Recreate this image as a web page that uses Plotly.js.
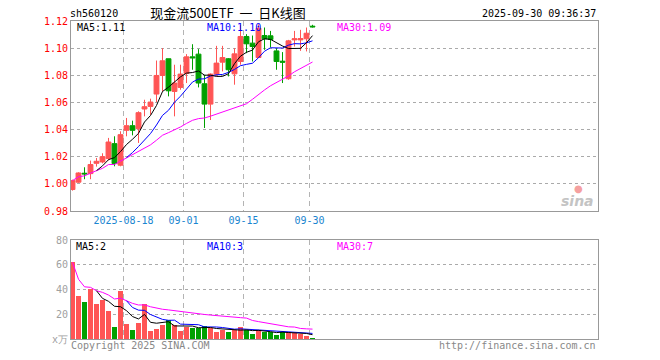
<!DOCTYPE html>
<html><head><meta charset="utf-8">
<script src="https://cdn.plot.ly/plotly-3.0.1.min.js"></script>
<style>html,body{margin:0;padding:0;background:#fff}#chart{width:660px;height:360px}</style>
</head><body><div id="chart"></div>
<script>
// ---- data (sh560120 daily K) ----
const dates = ["2025-08-05","2025-08-06","2025-08-07","2025-08-08","2025-08-11","2025-08-12","2025-08-13","2025-08-14","2025-08-15",
  "2025-08-18","2025-08-19","2025-08-20","2025-08-21","2025-08-22","2025-08-25","2025-08-26","2025-08-27","2025-08-28","2025-08-29",
  "2025-09-01","2025-09-02","2025-09-03","2025-09-04","2025-09-05","2025-09-08","2025-09-09","2025-09-10","2025-09-11","2025-09-12",
  "2025-09-15","2025-09-16","2025-09-17","2025-09-18","2025-09-19","2025-09-22","2025-09-23","2025-09-24","2025-09-25","2025-09-26",
  "2025-09-29","2025-09-30"];
const openP  = [0.9959,1.0013,1.0079,1.0076,1.0152,1.0162,1.0187,1.0297,1.0138,1.0395,1.0429,1.0407,1.0552,1.0571,1.0662,1.0799,1.0922,1.0681,1.0711,1.0814,
  1.0936,1.0956,1.0738,1.0588,1.0809,1.0897,1.0922,1.0811,1.0902,1.1086,1.1037,1.0931,1.1093,1.1091,1.0980,1.0904,1.0775,1.1061,1.1061,1.1069,1.1162];
const highP  = [1.0032,1.0086,1.0123,1.0172,1.0191,1.0226,1.0339,1.0351,1.0388,1.0486,1.0466,1.0535,1.0620,1.0628,1.0909,1.1000,1.0922,1.0878,1.0878,1.0956,
  1.1029,1.0993,1.0804,1.0814,1.1017,1.1017,1.0927,1.1000,1.1172,1.1103,1.1093,1.1176,1.1152,1.1127,1.1000,1.0971,1.1061,1.1127,1.1135,1.1152,1.1172];
const lowP   = [0.9951,1.0008,1.0035,1.0035,1.0128,1.0152,1.0174,1.0130,1.0130,1.0351,1.0358,1.0302,1.0498,1.0510,1.0603,1.0681,1.0645,1.0498,1.0694,1.0743,
  1.0841,1.0711,1.0412,1.0471,1.0792,1.0829,1.0792,1.0731,1.0878,1.0963,1.0902,1.0927,1.0988,1.1005,1.0841,1.0743,1.0767,1.1012,1.0980,1.0976,1.1152];
const closeP = [1.0025,1.0081,1.0074,1.0143,1.0167,1.0201,1.0309,1.0150,1.0363,1.0429,1.0395,1.0525,1.0569,1.0603,1.0799,1.0907,1.0686,1.0743,1.0809,1.0936,
  1.0929,1.0743,1.0588,1.0809,1.0890,1.0931,1.0841,1.0958,1.1086,1.1032,1.1012,1.1147,1.1069,1.1064,1.0902,1.0897,1.1054,1.1069,1.1071,1.1110,1.1157];
const volume = [62,34.7,29.9,40.5,28,31.2,22.7,9.9,38.7,12,7.5,13,28.3,6.7,8.3,11.5,15.2,11.2,6.7,10.1,
  9.1,8.5,10.4,8.5,5.9,7.2,5.9,7.2,9.6,7.2,4,6.9,5.9,5.6,3.5,5.9,5.3,4.5,4,2.7,1];
const tickDates  = ["2025-08-18","2025-09-01","2025-09-15","2025-09-30"];
const tickLabels = ["2025-08-18","09-01","09-15","09-30"];
const priceTicks = [0.98,1.00,1.02,1.04,1.06,1.08,1.10,1.12];
const volTicks   = [0,20,40,60,80];
const volTickLabels = ["x万","20","40","60","80"];

const RED = '#ff5555', GREEN = '#00a000';
const MONO = 'DejaVu Sans Mono';

// moving averages of the read values (MA30 shown as running mean while history is short)
function movingAverage(values, period, expanding) {
  return values.map((v, i) => {
    if (i + 1 < period && !expanding) return null;
    const s = values.slice(Math.max(0, i - period + 1), i + 1);
    return s.reduce((a, b) => a + b, 0) / s.length;
  });
}
const xs = dates.map((d, i) => i + 1);
const tickPos = tickDates.map(d => dates.indexOf(d) + 1 - 0.5);
const volColors = closeP.map((c, i) => c >= openP[i] ? RED : GREEN);

const L = 71, R = 598, T = 20.7, B = 339;
const W = 660, H = 360;
const px = x => (x - L) / (R - L);
const py = y => (B - y) / (B - T);

const traces = [
  {type:'candlestick', x:xs, open:openP, high:highP, low:lowP, close:closeP, xaxis:'x', yaxis:'y',
   increasing:{line:{color:RED,width:1}, fillcolor:RED}, decreasing:{line:{color:GREEN,width:1}, fillcolor:GREEN},
   whiskerwidth:0, hoverinfo:'none', showlegend:false},
  {type:'scatter', mode:'lines', x:xs, y:movingAverage(closeP,30,true), line:{color:'#ff00ff',width:1}, xaxis:'x', yaxis:'y', hoverinfo:'none'},
  {type:'scatter', mode:'lines', x:xs, y:movingAverage(closeP,10,false), line:{color:'#0000ff',width:1}, xaxis:'x', yaxis:'y', hoverinfo:'none'},
  {type:'scatter', mode:'lines', x:xs, y:movingAverage(closeP,5,false), line:{color:'#000000',width:1}, xaxis:'x', yaxis:'y', hoverinfo:'none'},
  {type:'bar', x:xs, y:volume, marker:{color:volColors, line:{width:0}}, width:0.82, xaxis:'x2', yaxis:'y2', hoverinfo:'none'},
  {type:'scatter', mode:'lines', x:xs, y:movingAverage(volume,30,true), line:{color:'#ff00ff',width:1}, xaxis:'x2', yaxis:'y2', hoverinfo:'none'},
  {type:'scatter', mode:'lines', x:xs, y:movingAverage(volume,10,false), line:{color:'#0000ff',width:1}, xaxis:'x2', yaxis:'y2', hoverinfo:'none'},
  {type:'scatter', mode:'lines', x:xs, y:movingAverage(volume,5,false), line:{color:'#000000',width:1}, xaxis:'x2', yaxis:'y2', hoverinfo:'none'}
];

const xr = [0.75, 0.75 + (R - L) / 6];
const axisX = {range:xr, tickvals:tickPos, ticktext:tickLabels, showgrid:true, gridcolor:'#b4b4b4', griddash:'5px,4px', gridwidth:1,
  showline:true, mirror:true, linecolor:'#999', linewidth:1, zeroline:false, ticks:'', fixedrange:true,
  rangeslider:{visible:false}};

const ann = (text, x, y, color, opts) => Object.assign({text, x:px(x), y:py(y), xref:'paper', yref:'paper', showarrow:false,
  xanchor:'left', yanchor:'middle', font:{family:MONO, size:10, color}}, opts || {});

const layout = {
  width:W, height:H, margin:{l:L, r:W-R, t:T, b:H-B}, paper_bgcolor:'#fff', plot_bgcolor:'#fff', showlegend:false,
  boxgap:0.1, boxgroupgap:0.1, bargap:0,
  title:{text:'现金流500ETF\u00a0\u00a0一\u00a0\u00a0日K线图', x:228/W, xanchor:'center', xref:'container', y:1-13/H, yref:'container', yanchor:'middle',
    font:{family:'Noto Sans CJK SC', size:13, color:'#000'}},
  xaxis:Object.assign({}, axisX, {anchor:'y', showticklabels:true, tickfont:{family:MONO, size:10, color:'#1a85d0'}}),
  xaxis2:Object.assign({}, axisX, {anchor:'y2', showticklabels:false}),
  yaxis:{domain:[py(211), 1], range:[0.98, 1.12], tickvals:priceTicks, ticktext:priceTicks.map(v => v.toFixed(2)),
    tickfont:{family:MONO, size:10, color:'#ff0000'}, showgrid:true, gridcolor:'#aaa', griddash:'dot', zeroline:false,
    showline:true, mirror:true, linecolor:'#999', ticks:'', fixedrange:true},
  yaxis2:{domain:[0, py(240)], range:[0, 80], tickvals:volTicks, ticktext:volTickLabels,
    tickfont:{family:MONO, size:10, color:'#a0a0a0'}, showgrid:true, gridcolor:'#aaa', griddash:'dot', zeroline:false,
    showline:true, mirror:true, linecolor:'#999', ticks:'', fixedrange:true},
  annotations:[
    ann('sh560120', 68, 13, '#000'),
    ann('2025-09-30 09:36:37', 598, 13, '#000', {xanchor:'right'}),
    ann('MA5:1.11', 75, 27, '#000'),
    ann('MA10:1.10', 205, 27, '#0000ff'),
    ann('MA30:1.09', 335, 27, '#ff00ff'),
    ann('MA5:2', 74, 246, '#000'),
    ann('MA10:3', 205, 246, '#0000ff'),
    ann('MA30:7', 335, 246, '#ff00ff'),
    ann('Copyright 2025 SINA.COM', 69, 346, '#888'),
    ann('http://finance.sina.com.cn', 598, 346, '#888', {xanchor:'right'}),
    ann('<i><b>sina</b></i>', 596, 201, '#c4c4c4', {xanchor:'right', font:{family:'DejaVu Sans', size:14, color:'#c4c4c4'}}),
    ann('●', 578, 188, '#f5a0a0', {xanchor:'center', font:{family:'DejaVu Sans', size:10, color:'#f5a0a0'}})
  ]
};
Plotly.newPlot('chart', traces, layout, {staticPlot:true, displayModeBar:false});
</script>
</body></html>
